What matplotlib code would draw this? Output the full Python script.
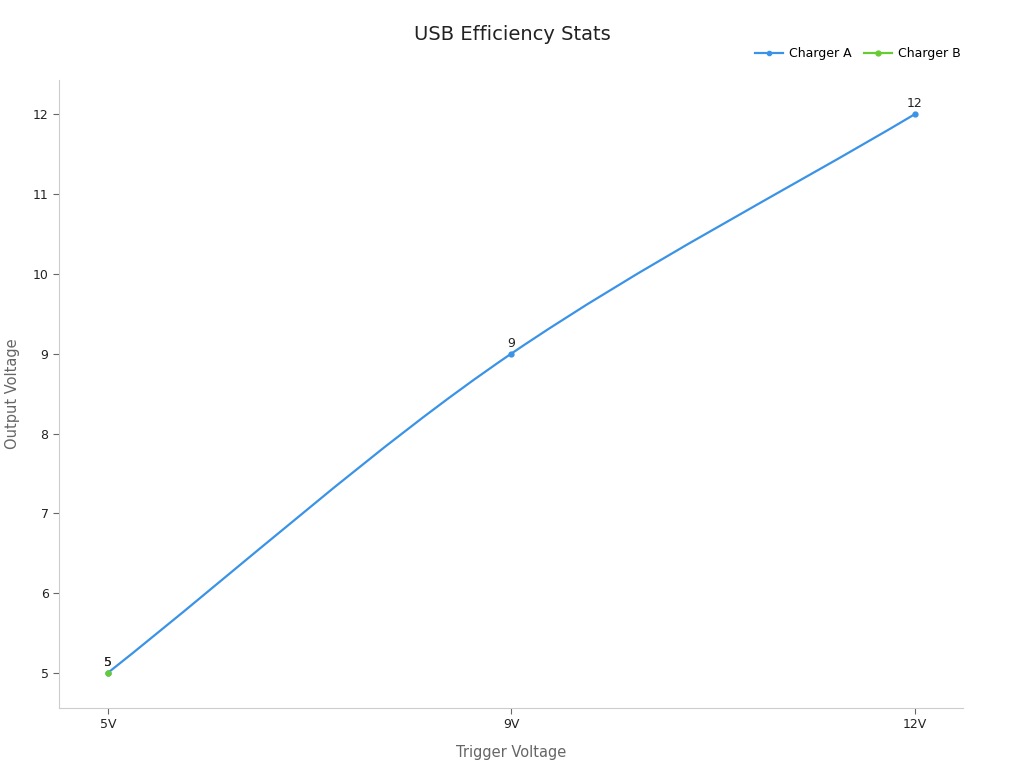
import numpy as np
import matplotlib.pyplot as plt
from matplotlib.path import Path
from matplotlib.patches import PathPatch

categories = ['5V', '9V', '12V']
charger_a = [5, 9, 12]
charger_b = [5, None, None]

blue = '#3a93e6'
green = '#66cc33'


def smooth_path(xs, ys):
    # monotone cubic (Fritsch-Carlson style) through the points, as bezier segments
    xs = np.asarray(xs, float)
    ys = np.asarray(ys, float)
    d = np.diff(ys) / np.diff(xs)
    m = np.zeros_like(ys)
    m[0], m[-1] = d[0], d[-1]
    for i in range(1, len(ys) - 1):
        m[i] = 0 if d[i - 1] * d[i] <= 0 else 2 / (1 / d[i - 1] + 1 / d[i])
    verts = [(xs[0], ys[0])]
    codes = [Path.MOVETO]
    for i in range(len(xs) - 1):
        h = xs[i + 1] - xs[i]
        verts += [(xs[i] + h / 3, ys[i] + m[i] * h / 3),
                  (xs[i + 1] - h / 3, ys[i + 1] - m[i + 1] * h / 3),
                  (xs[i + 1], ys[i + 1])]
        codes += [Path.CURVE4] * 3
    return Path(verts, codes)


fig = plt.figure(figsize=(10.24, 7.68), dpi=100)
ax = fig.add_axes([0.0576, 0.0781, 0.8828, 0.8177])

x = np.arange(len(categories))
ax.add_patch(PathPatch(smooth_path(x, charger_a), fill=False, edgecolor=blue, lw=1.6, zorder=3))
ax.plot(x, charger_a, 'o', color=blue, ms=3.5, zorder=4)
ax.plot([], [], '-o', color=blue, ms=3, lw=1.6, label='Charger A')
for xi, v in zip(x, charger_a):
    ax.annotate(str(v), (xi, v), xytext=(0, 3), textcoords='offset points',
                ha='center', va='bottom', fontsize=9, color='#222222')

bx = [xi for xi, v in zip(x, charger_b) if v is not None]
bv = [v for v in charger_b if v is not None]
ax.plot(bx, bv, '-o', color=green, ms=3.5, lw=1.6, label='Charger B', zorder=5)
for xi, v in zip(bx, bv):
    ax.annotate(str(v), (xi, v), xytext=(0, 3), textcoords='offset points',
                ha='center', va='bottom', fontsize=9, color='#222222')

ax.set_xlim(-0.121, 2.12)
ax.set_ylim(4.56, 12.43)
ax.set_xticks(x)
ax.set_xticklabels(categories)
ax.set_yticks(range(5, 13))

for s in ['top', 'right']:
    ax.spines[s].set_visible(False)
for s in ['left', 'bottom']:
    ax.spines[s].set_color('#cccccc')
ax.tick_params(colors='#222222', labelsize=9, length=4, width=0.8)
ax.tick_params(axis='both', color='#666666')

ax.set_xlabel('Trigger Voltage', fontsize=10.5, color='#666666', labelpad=10)
ax.set_ylabel('Output Voltage', fontsize=10.5, color='#666666', labelpad=9)
fig.suptitle('USB Efficiency Stats', fontsize=14, color='#222222', y=0.968)

ax.legend(loc='upper right', bbox_to_anchor=(1.01, 1.07), ncol=2, frameon=False,
          fontsize=9, handlelength=2.2, columnspacing=1.0, handletextpad=0.5)

fig.savefig('out.png', dpi=100)
